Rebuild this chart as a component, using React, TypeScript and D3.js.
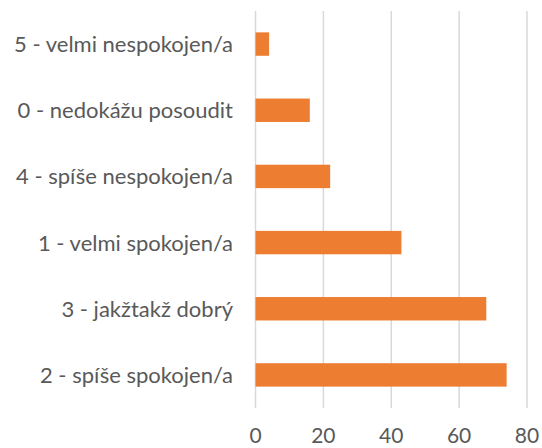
import { useEffect } from 'react';
import * as d3 from 'd3';

const categories = [
  '5 - velmi nespokojen/a',
  '0 - nedokážu posoudit',
  '4 - spíše nespokojen/a',
  '1 - velmi spokojen/a',
  '3 - jakžtakž dobrý',
  '2 - spíše spokojen/a',
];
const values = [4, 16, 22, 43, 68, 74];
const ticks = [0, 20, 40, 60, 80];

const W = 542;
const H = 448;
const margin = { top: 11, right: 15, bottom: 40, left: 255.5 };

export default function App() {
  useEffect(() => {
    document.body.style.margin = '0';
  }, []);

  const x = d3.scaleLinear().domain([0, 80]).range([margin.left, W - margin.right]);
  const y = d3
    .scaleBand()
    .domain(categories)
    .range([margin.top, H - margin.bottom])
    .paddingInner(0.646)
    .paddingOuter(0.323);

  const font = "Lato, sans-serif";

  return (
    <svg width={W} height={H} style={{ display: 'block' }}>
      {/* gridlines */}
      {ticks.map(t => (
        <line
          key={t}
          x1={x(t)}
          x2={x(t)}
          y1={margin.top}
          y2={H - margin.bottom}
          stroke="#d9d9d9"
          strokeWidth={1.5}
        />
      ))}
      {/* bars */}
      {categories.map((c, i) => (
        <rect
          key={c}
          x={x(0)}
          y={y(c)}
          width={x(values[i]) - x(0)}
          height={y.bandwidth()}
          fill="#ed7d31"
        />
      ))}
      {/* category labels */}
      {categories.map(c => (
        <text
          key={c}
          x={233}
          y={(y(c) ?? 0) + y.bandwidth() / 2 + 8}
          textAnchor="end"
          fill="#595959"
          fontSize={22}
          fontFamily={font}
        >
          {c}
        </text>
      ))}
      {/* x tick labels */}
      {ticks.map(t => (
        <text
          key={t}
          x={x(t)}
          y={443}
          textAnchor="middle"
          fill="#595959"
          fontSize={21}
          fontFamily={font}
        >
          {t}
        </text>
      ))}
    </svg>
  );
}
